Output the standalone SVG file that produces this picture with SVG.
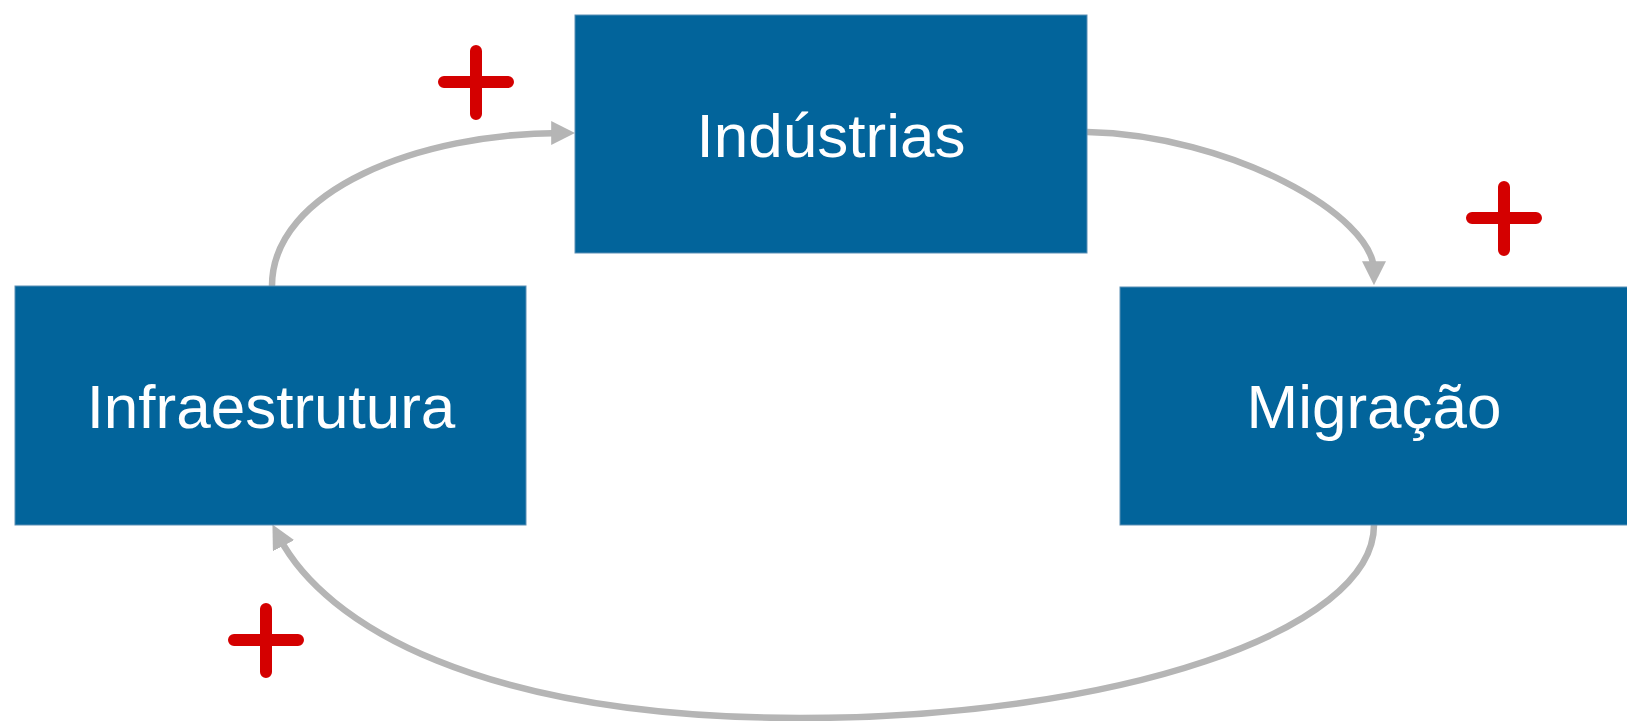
<svg xmlns="http://www.w3.org/2000/svg" width="1627" height="721" viewBox="0 0 1627 721">
<defs>
<style>
.box{fill:#02649b;stroke:#5b8fb5;stroke-width:1}
.lbl{fill:#ffffff;font-family:"Liberation Sans",Arial,sans-serif;font-size:62px;text-anchor:middle}
.conn{fill:none;stroke:#b5b5b5;stroke-width:6.5}
.plus{stroke:#d40000;stroke-width:12;stroke-linecap:round}
</style>
<marker id="ah" markerUnits="userSpaceOnUse" markerWidth="24" markerHeight="24" refX="9" refY="11" orient="auto" viewBox="0 0 22 22">
<path d="M0,0 L22,11 L0,22 Z" fill="#b5b5b5"/>
</marker>
</defs>
<rect width="1627" height="721" fill="#ffffff"/>
<g id="connectors">
<path class="conn" d="M272,286 C272,190 420,133 561,133" marker-end="url(#ah)"/>
<path class="conn" d="M1087,132 C1230,135 1374,215 1374,271" marker-end="url(#ah)"/>
<path class="conn" d="M1374,525 C1374,631 1116,718 800,718 C480,718 325,625 279,537" marker-end="url(#ah)"/>
</g>
<g id="node-industrias">
<rect class="box" x="575" y="15" width="512" height="238"/>
<text class="lbl" x="831" y="157">Indústrias</text>
</g>
<g id="node-infraestrutura">
<rect class="box" x="15" y="286" width="511" height="239"/>
<text class="lbl" x="271" y="428">Infraestrutura</text>
</g>
<g id="node-migracao">
<rect class="box" x="1120" y="287" width="512" height="238"/>
<text class="lbl" x="1374" y="428">Migração</text>
</g>
<g id="signs">
<path class="plus" d="M476,51 V114 M444,82 H508"/>
<path class="plus" d="M1504,187 V250 M1472,218 H1536"/>
<path class="plus" d="M266,609 V672 M234,640 H298"/>
</g>
</svg>
